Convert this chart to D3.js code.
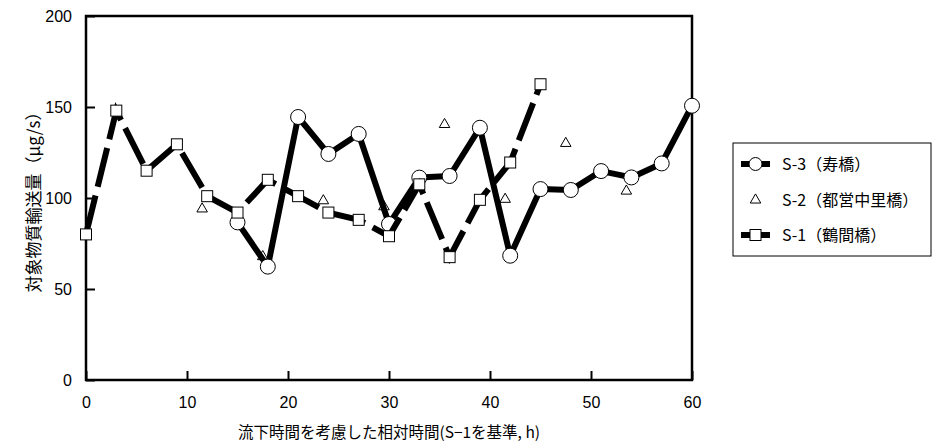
<!DOCTYPE html>
<html><head><meta charset="utf-8">
<script src="https://cdn.jsdelivr.net/npm/d3@7"></script>
<style>
body{margin:0;background:#fff;}
svg{display:block;}
</style></head>
<body>
<svg id="chart" width="933" height="448"></svg>
<script>
// ---- data ----
const s1Times = [0,3,6,9,12,15,18,21,24,27,30,33,36,39,42,45];
const s1Values = [80,148,115,129.5,101,92,110,101,92,88,79,107.5,67.5,99,119.5,162.5];
const s3Times = [15,18,21,24,27,30,33,36,39,42,45,48,51,54,57,60];
const s3Values = [86.6,62.3,144.5,124.2,135.2,85.7,111.2,112.1,138.6,68.3,104.9,104.4,114.8,111.3,119,150.7];
const s2Times = [11.5,17.5,23.5,29.5,35.5,41.5,47.5,53.5];
const s2Values = [94,67.8,98.5,95.2,140.4,99.3,130,103.8];
const xTicks = [0,10,20,30,40,50,60];
const yTicks = [0,50,100,150,200];
const legendLabels = ["S-3（寿橋）","S-2（都営中里橋）","S-1（鶴間橋）"];
const xTitle = "流下時間を考慮した相対時間(S−1を基準, h)";
const yTitle = "対象物質輸送量（μg/s）";

const svg = d3.select("#chart");
const L=86, R=692, T=16, B=380;
const x = d3.scaleLinear().domain([0,60]).range([L,R]);
const y = d3.scaleLinear().domain([0,200]).range([B,T]);

const numFont = "'Liberation Sans', Arial, sans-serif";
const jpFont = "'Noto Sans CJK JP', sans-serif";

// axes
const yAxis = d3.axisLeft(y).tickValues(yTicks).tickSizeInner(-9).tickSizeOuter(0).tickPadding(14);
const gy = svg.append("g").attr("transform",`translate(${L},0)`).call(yAxis);
gy.selectAll("text").attr("font-size",16).attr("font-family",numFont).attr("fill","#000");
gy.selectAll("line").attr("stroke","#000").attr("stroke-width",2);
gy.select(".domain").remove();

const xAxis = d3.axisBottom(x).tickValues(xTicks).tickSizeInner(-9).tickSizeOuter(0).tickPadding(17);
const gx = svg.append("g").attr("transform",`translate(0,${B})`).call(xAxis);
gx.selectAll("text").attr("font-size",16).attr("font-family","'Liberation Sans Narrow', " + numFont).attr("fill","#000");
gx.selectAll("line").attr("stroke","#000").attr("stroke-width",2);
gx.select(".domain").remove();

// frame
svg.append("rect").attr("x",L).attr("y",T).attr("width",R-L).attr("height",B-T)
  .attr("fill","none").attr("stroke","#000").attr("stroke-width",2.5);

// titles
svg.append("text").attr("x",(L+R)/2).attr("y",438).attr("text-anchor","middle")
  .attr("font-family",jpFont).attr("font-size",15.5).text(xTitle);
svg.append("text").attr("transform",`translate(40,${(T+B)/2}) rotate(-90)`).attr("text-anchor","middle")
  .attr("font-family",jpFont).attr("font-size",17).text(yTitle);

const line = d3.line().x(d=>x(d[0])).y(d=>y(d[1]));
const s1 = s1Times.map((t,i)=>[t,s1Values[i]]);
const s2 = s2Times.map((t,i)=>[t,s2Values[i]]);
const s3 = s3Times.map((t,i)=>[t,s3Values[i]]);

const tri = d3.symbol().type(d3.symbolTriangle).size(48);

// S-2 triangles
svg.append("g").selectAll("path").data(s2).join("path")
  .attr("d",tri).attr("transform",d=>`translate(${x(d[0])},${y(d[1])})`)
  .attr("fill","#fff").attr("stroke","#000").attr("stroke-width",1);

// S-3 line + circles
svg.append("path").datum(s3).attr("d",line).attr("fill","none").attr("stroke","#000")
  .attr("stroke-width",6).attr("stroke-linejoin","round");
svg.append("g").selectAll("circle").data(s3).join("circle")
  .attr("cx",d=>x(d[0])).attr("cy",d=>y(d[1])).attr("r",7.5)
  .attr("fill","#fff").attr("stroke","#000").attr("stroke-width",1);

// S-1 dashed line + squares
svg.append("path").datum(s1).attr("d",line).attr("fill","none").attr("stroke","#000")
  .attr("stroke-width",6).attr("stroke-dasharray","40,9");
svg.append("g").selectAll("rect").data(s1).join("rect")
  .attr("x",d=>x(d[0])-5.5).attr("y",d=>y(d[1])-5.5).attr("width",11).attr("height",11)
  .attr("fill","#fff").attr("stroke","#000").attr("stroke-width",1);

// legend
const lg = svg.append("g");
lg.append("rect").attr("x",733).attr("y",143).attr("width",198).attr("height",113)
  .attr("fill","#fff").attr("stroke","#000").attr("stroke-width",1);
const rowsY = [164,200,235];
// S-3
lg.append("line").attr("x1",741).attr("x2",770).attr("y1",rowsY[0]).attr("y2",rowsY[0]).attr("stroke","#000").attr("stroke-width",6);
lg.append("circle").attr("cx",755.5).attr("cy",rowsY[0]).attr("r",6.5).attr("fill","#fff").attr("stroke","#000");
// S-2
lg.append("path").attr("d",tri).attr("transform",`translate(755.5,${rowsY[1]})`).attr("fill","#fff").attr("stroke","#000");
// S-1
lg.append("line").attr("x1",741).attr("x2",770).attr("y1",rowsY[2]).attr("y2",rowsY[2]).attr("stroke","#000").attr("stroke-width",6);
lg.append("rect").attr("x",750).attr("y",rowsY[2]-5.5).attr("width",11).attr("height",11).attr("fill","#fff").attr("stroke","#000");
lg.selectAll("text.lab").data(legendLabels).join("text").attr("class","lab")
  .attr("x",782).attr("y",(d,i)=>rowsY[i]).attr("dy","0.36em")
  .attr("font-family",jpFont).attr("font-size",16).text(d=>d);
</script>
</body></html>
